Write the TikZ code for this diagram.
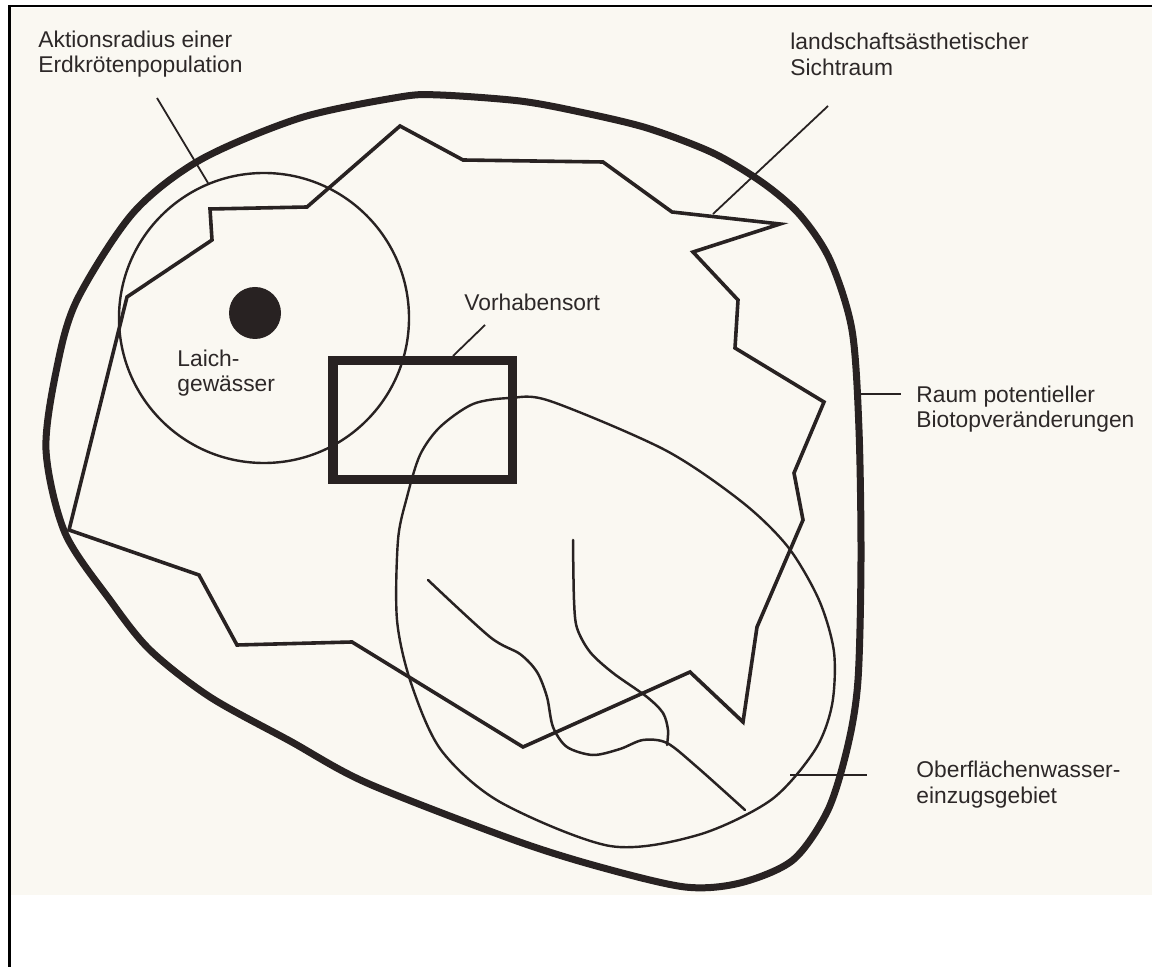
\documentclass[tikz,border=0pt]{standalone}
\usepackage{fontspec}
\setmainfont{Liberation Sans}
\definecolor{ink}{RGB}{40,34,34}
\definecolor{paper}{RGB}{250,248,242}
\definecolor{txt}{RGB}{45,40,40}
\begin{document}
\begin{tikzpicture}[x=0.5pt,y=-0.5pt,
  lbl/.style={font=\fontsize{11.4}{13}\selectfont, text=txt, inner sep=0pt, anchor=base west},
  frameln/.style={draw=black, line width=1.4pt, line join=miter},
  outerln/.style={draw=ink, line width=3.5pt},
  polyln/.style={draw=ink, line width=1.8pt, line join=miter},
  thinln/.style={draw=ink, line width=1.2pt},
  leader/.style={draw=ink, line width=0.9pt},
  river/.style={draw=ink, line width=1.25pt, line cap=round},
  siteln/.style={draw=ink, line width=4.7pt, line join=miter}]
\useasboundingbox (0,0) rectangle (1152,967);
\fill[white] (0,0) rectangle (1152,967);
\fill[paper] (10,8) rectangle (1152,895);
% frame
\draw[frameln] (9.5,967) -- (9.5,6) -- (1152,6);
% outer area: Raum potentieller Biotopveraenderungen
\draw[outerln] plot[smooth cycle, tension=0.5] coordinates {
  (440,95) (520,101) (580,112) (647,128) (713,153) (763,183) (800,215) (830,260)
  (852,330) (859,430) (861,560) (858,680) (848,745) (828,810) (793,860) (740,883)
  (685,887) (600,867) (514,840) (367,783) (290,741) (210,697) (150,650) (110,600)
  (65,533) (46,450) (57,367) (77,300) (133,213) (200,160) (300,118) (400,97)};
% landscape view polygon
\draw[polyln] (400,126) -- (463,160) -- (603,162) -- (672,212) -- (780,224) -- (693,252)
  -- (738,300) -- (735,348) -- (824,402) -- (794,473) -- (803,520) -- (757,627)
  -- (743,722) -- (690,672) -- (523,747) -- (352,642) -- (237,645) -- (199,575)
  -- (69,530) -- (127,297) -- (212,240) -- (210,209) -- (307,207) -- cycle;
% action radius circle
\draw[thinln] (264,318) circle[radius=145];
% spawning pond
\fill[ink] (255,313) circle[radius=26];
% catchment area
\draw[thinln] plot[smooth cycle, tension=0.5] coordinates {
  (510,398) (550,401) (665,450) (742,502) (788,547) (819,600) (834,652) (832,705)
  (815,750) (771,800) (698,835) (610,846) (500,802) (441,750) (411,683) (397,620)
  (398,540) (407,497) (420,455) (440,427) (473,404)};
% rivers
\draw[river] plot[smooth, tension=0.5] coordinates {
  (428,580) (490,637) (520,654) (537,672) (547,697) (553,727) (567,747) (593,755)
  (620,749) (643,740) (667,743) (697,767) (745,810)};
\draw[river] plot[smooth, tension=0.5] coordinates {
  (573,540) (574,600) (577,628) (590,652) (613,673) (647,697) (663,713) (668,730) (667,745)};
% project site
\draw[siteln] (333,360.5) rectangle (512.5,479.5);
% labels
\node[lbl] (akt1) at (38,48) {Aktionsradius einer};
\node[lbl] (akt2) at (38,73) {Erdkrötenpopulation};
\node[lbl] (land1) at (790,50) {landschaftsästhetischer};
\node[lbl] (land2) at (790,76) {Sichtraum};
\node[lbl] (vor) at (464,311) {Vorhabensort};
\node[lbl] (laich1) at (177,367) {Laich-};
\node[lbl] (laich2) at (177,392) {gewässer};
\node[lbl] (raum1) at (916,403) {Raum potentieller};
\node[lbl] (raum2) at (916,428) {Biotopveränderungen};
\node[lbl] (ober1) at (916,778) {Oberflächenwasser-};
\node[lbl] (ober2) at (916,804) {einzugsgebiet};
% leader lines
\coordinate (aktA) at (157,98);   \coordinate (aktB) at (208,183);
\coordinate (landA) at (828,106); \coordinate (landB) at (713,214);
\coordinate (vorA) at (485,325);  \coordinate (vorB) at (453,356);
\coordinate (raumA) at (861,394); \coordinate (raumB) at (901,394);
\coordinate (oberA) at (790,775); \coordinate (oberB) at (867,775);
\draw[leader] (aktA) -- (aktB);
\draw[leader] (landA) -- (landB);
\draw[leader] (vorA) -- (vorB);
\draw[leader] (raumA) -- (raumB);
\draw[leader] (oberA) -- (oberB);
\end{tikzpicture}
\end{document}
